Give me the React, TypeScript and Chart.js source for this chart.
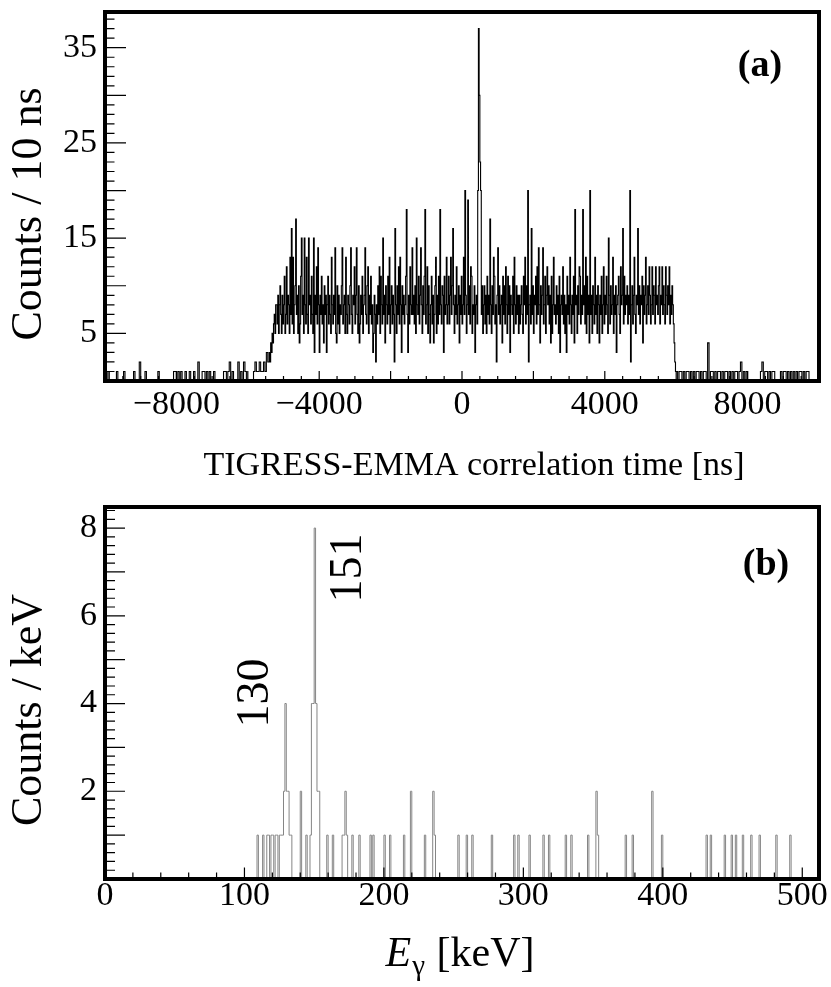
import React, { useEffect, useRef } from "react";
import { Chart, registerables } from "chart.js";

Chart.register(...registerables);

const SERIF = '"Liberation Serif", "Times New Roman", Times, serif';
const PAGE_W = 831;
const TOP_H = 495;
const BOT_H = 492;

// ---------------- Panel (a): TIGRESS-EMMA correlation time ----------------
const timeMin = -10000;
const timeMax = 10000;
const timeCountMax = 38.75;
// background before the window: 40 ns bins, -10000 ns .. -5400 ns
const timeBgBin = 40;
const timeBackgroundBefore = [
  0, 0, 1, 0, 0, 0, 0, 0, 1, 0,
  0, 0, 0, 1, 0, 0, 0, 0, 0, 0,
  1, 0, 0, 0, 2, 0, 0, 0, 1, 0,
  0, 0, 0, 0, 0, 0, 0, 1, 0, 0,
  0, 0, 0, 0, 0, 0, 0, 0, 1, 1,
  0, 1, 0, 1, 0, 0, 1, 0, 0, 1,
  0, 0, 1, 0, 0, 2, 0, 0, 1, 1,
  0, 1, 0, 1, 0, 0, 1, 0, 0, 0,
  0, 0, 0, 1, 1, 0, 1, 2, 0, 1,
  0, 0, 0, 2, 0, 1, 0, 2, 1, 0,
  0, 0, 0, 0, 1, 2, 1, 1, 2, 1,
  1, 2, 1, 3, 2,
];
// coincidence window: 20 ns bins, -5400 ns .. 6000 ns (one row = 1000 ns)
const timeWindowStart = -5400;
const timeWindowBin = 20;
const timeWindow = [
  3, 2, 4, 3, 5, 4, 6, 7, 5, 8, 8, 6, 9, 5, 8, 10, 7, 5, 9, 6, 8, 11, 5, 7, 12, 6, 9, 8, 5, 13, 7, 16, 6, 13, 5, 8, 10, 17, 7, 9, 5, 10, 4, 6, 11, 15, 7, 9, 5, 15,
  8, 6, 13, 7, 5, 15, 8, 9, 6, 11, 7, 5, 15, 3, 9, 7, 12, 6, 14, 8, 3, 9, 7, 11, 6, 8, 4, 10, 7, 9, 3, 8, 11, 6, 9, 7, 5, 13, 8, 6, 9, 7, 14, 5, 4, 10, 6, 9, 5, 8,
  7, 10, 14, 6, 8, 9, 5, 13, 7, 5, 9, 8, 6, 10, 14, 7, 5, 9, 8, 12, 6, 9, 14, 7, 5, 10, 4, 6, 9, 7, 11, 5, 8, 9, 14, 7, 6, 10, 12, 5, 9, 7, 11, 6, 8, 3, 5, 9, 7, 2,
  8, 6, 10, 7, 12, 5, 11, 8, 6, 15, 7, 9, 4, 10, 8, 6, 11, 7, 13, 5, 8, 10, 6, 9, 7, 2, 16, 8, 5, 10, 7, 12, 6, 13, 8, 3, 10, 7, 9, 6, 8, 11, 18, 7, 3, 9, 6, 12, 8, 7,
  14, 7, 9, 6, 10, 5, 15, 8, 7, 11, 6, 9, 14, 8, 5, 10, 7, 11, 18, 6, 8, 12, 5, 10, 7, 4, 8, 11, 6, 9, 4, 7, 10, 13, 5, 9, 6, 11, 7, 18, 8, 6, 10, 9, 3, 11, 7, 8, 13, 6,
  8, 11, 6, 9, 13, 7, 10, 16, 8, 5, 9, 7, 12, 6, 8, 10, 4, 9, 7, 11, 6, 8, 13, 7, 20, 9, 5, 8, 19, 7, 10, 6, 12, 11, 5, 8, 7, 10, 3, 8, 9, 6, 20, 37, 30, 23, 20, 7, 10, 5,
  8, 10, 6, 9, 5, 11, 7, 9, 6, 17, 8, 5, 10, 7, 13, 11, 6, 8, 2, 9, 14, 7, 10, 6, 8, 9, 4, 11, 7, 10, 6, 12, 8, 5, 11, 7, 10, 3, 9, 8, 7, 11, 5, 13, 8, 6, 10, 7, 9, 5,
  9, 6, 8, 10, 7, 5, 11, 8, 13, 6, 10, 7, 20, 2, 8, 9, 6, 16, 7, 10, 5, 9, 8, 11, 6, 12, 7, 14, 8, 4, 10, 7, 9, 14, 6, 8, 11, 5, 9, 12, 8, 10, 6, 9, 4, 11, 5, 8, 13, 7,
  8, 6, 10, 7, 9, 5, 11, 3, 8, 9, 7, 12, 6, 9, 5, 8, 3, 11, 7, 9, 6, 13, 8, 5, 9, 7, 11, 4, 18, 8, 9, 5, 10, 7, 12, 11, 6, 9, 7, 18, 8, 10, 6, 13, 5, 11, 7, 9, 4, 20,
  7, 9, 5, 10, 8, 6, 13, 7, 9, 5, 10, 8, 4, 9, 7, 11, 5, 8, 12, 6, 9, 7, 11, 8, 5, 15, 9, 6, 10, 7, 8, 13, 5, 9, 7, 10, 3, 8, 9, 11, 7, 5, 12, 8, 9, 16, 6, 11, 7, 9,
  8, 10, 6, 9, 7, 20, 2, 8, 10, 6, 9, 13, 7, 5, 9, 8, 16, 7, 10, 6, 9, 8, 11, 4, 10, 7, 9, 13, 6, 8, 10, 7, 12, 9, 6, 8, 12, 7, 10, 9, 6, 12, 8, 9, 7, 10, 12, 6, 9, 8,
  12, 7, 10, 8, 6, 12, 9, 7, 10, 8, 12, 6, 9, 7, 10, 8, 6, 4, 2, 1,
];
// background after the window: 40 ns bins, 6000 ns .. 10000 ns
const timeBackgroundAfter = [
  1, 0, 1, 1, 0, 1, 0, 1, 1, 0,
  1, 0, 1, 0, 1, 1, 0, 1, 0, 1,
  1, 0, 4, 0, 1, 1, 0, 1, 0, 1,
  1, 0, 1, 0, 1, 1, 0, 1, 0, 1,
  0, 1, 1, 0, 1, 2, 0, 1, 0, 1,
  0, 0, 0, 0, 0, 0, 0, 0, 0, 1,
  2, 0, 1, 1, 0, 1, 0, 1, 1, 0,
  0, 0, 0, 1, 0, 1, 1, 0, 1, 0,
  1, 0, 1, 0, 1, 0, 1, 1, 0, 1,
  0, 1, 1, 0, 0, 0, 0, 0, 0, 0,
];
const timeTickLabels = [-8000, -4000, 0, 4000, 8000];
const timeCountTickLabels = [5, 15, 25, 35];

// ---------------- Panel (b): gamma-ray energy ----------------
const gammaMin = 0;
const gammaMax = 512;
const gammaCountMax = 8.48;
// [energy bin (keV), counts]
const gammaNonZeroBins = [
  [109, 1], [113, 1], [116, 1], [117, 1], [119, 1], [120, 1], [122, 1], [123, 1],
  [125, 1], [126, 1], [127, 1], [128, 2], [129, 4], [130, 2], [131, 2], [132, 1],
  [133, 1], [140, 2], [144, 1], [147, 1], [148, 4], [149, 4], [150, 8], [151, 4],
  [152, 2], [153, 2], [159, 1], [163, 1], [170, 1], [171, 1], [172, 2], [173, 1],
  [177, 1], [182, 1], [190, 1], [192, 1], [200, 1], [204, 1], [214, 1], [219, 2],
  [229, 1], [235, 2], [236, 1], [253, 1], [259, 1], [263, 1], [277, 1], [293, 1],
  [296, 1], [304, 1], [314, 1], [318, 1], [330, 1], [334, 1], [346, 1], [352, 2],
  [353, 1], [373, 1], [378, 1], [392, 2], [399, 1], [431, 1], [434, 1], [444, 1],
  [449, 1], [452, 1], [457, 1], [463, 1], [469, 1], [481, 1], [491, 1],
];
const gammaTickLabels = [0, 100, 200, 300, 400, 500];
const gammaCountTickLabels = [2, 4, 6, 8];
const gammaPeakLabels = [
  { text: "130", energy: 107, count: 4.24 },
  { text: "151", energy: 173.6, count: 7.09 },
];

// ---------------- helpers ----------------
const timePoints: { x: number; y: number }[] = [];
timeBackgroundBefore.forEach((c, i) => timePoints.push({ x: timeMin + i * timeBgBin, y: c }));
timeWindow.forEach((c, i) => timePoints.push({ x: timeWindowStart + i * timeWindowBin, y: c }));
const timeAfterStart = timeWindowStart + timeWindow.length * timeWindowBin;
timeBackgroundAfter.forEach((c, i) => timePoints.push({ x: timeAfterStart + i * timeBgBin, y: c }));
timePoints.push({ x: timeMax, y: timeBackgroundAfter[timeBackgroundAfter.length - 1] });

const gammaCounts: number[] = new Array(gammaMax - gammaMin).fill(0);
gammaNonZeroBins.forEach(([e, c]) => {
  gammaCounts[e - gammaMin] = c;
});
const gammaPoints = gammaCounts.map((c, i) => ({ x: gammaMin + i, y: c }));
gammaPoints.push({ x: gammaMax, y: gammaCounts[gammaCounts.length - 1] });

const fmt = (v: number) => (v < 0 ? "\u2212" + Math.abs(v) : String(v));

type Spec = {
  points: { x: number; y: number }[];
  color: string;
  lineWidth: number;
  height: number;
  plotBottom: number;
  xMin: number;
  xMax: number;
  yMax: number;
  xLabels: number[];
  yLabels: number[];
  xLabelPad: number;
  xMajor: number;
  xMinor: number;
  yMajor: number;
  yMinor: number;
  xMajorLen: number;
  xMinorLen: number;
  yMajorLen: number;
  yMinorLen: number;
  drawText: (ctx: CanvasRenderingContext2D, a: any, xs: any, ys: any) => void;
};

function isMult(v: number, step: number) {
  const r = v / step;
  return Math.abs(r - Math.round(r)) < 1e-6;
}

function makeDecor(spec: Spec) {
  return {
    id: "decor",
    afterDatasetsDraw(chart: any) {
      const { ctx, chartArea: a } = chart;
      const xs = chart.scales.x;
      const ys = chart.scales.y;
      ctx.save();
      ctx.strokeStyle = "#000";
      ctx.lineWidth = 1.2;
      ctx.beginPath();
      const nx = Math.round((spec.xMax - spec.xMin) / spec.xMinor);
      const kx0 = Math.ceil(spec.xMin / spec.xMinor);
      for (let k = kx0; k <= kx0 + nx; k++) {
        const v = k * spec.xMinor;
        if (v > spec.xMax) break;
        const len = isMult(v, spec.xMajor) ? spec.xMajorLen : spec.xMinorLen;
        const px = xs.getPixelForValue(v);
        ctx.moveTo(px, a.bottom);
        ctx.lineTo(px, a.bottom - len);
      }
      const ny = Math.floor(spec.yMax / spec.yMinor + 1e-9);
      for (let k = 0; k <= ny; k++) {
        const v = k * spec.yMinor;
        const len = isMult(v, spec.yMajor) ? spec.yMajorLen : spec.yMinorLen;
        const py = ys.getPixelForValue(v);
        ctx.moveTo(a.left, py);
        ctx.lineTo(a.left + len, py);
      }
      ctx.stroke();
      ctx.lineWidth = 4;
      ctx.strokeRect(a.left, a.top, a.right - a.left, a.bottom - a.top);
      ctx.fillStyle = "#000";
      spec.drawText(ctx, a, xs, ys);
      ctx.restore();
    },
  };
}

function buildChart(canvas: HTMLCanvasElement, spec: Spec) {
  const tickFont = { family: SERIF, size: 34 };
  return new Chart(canvas, {
    type: "line",
    data: {
      datasets: [
        {
          data: spec.points,
          borderColor: spec.color,
          borderWidth: spec.lineWidth,
          pointRadius: 0,
          fill: false,
          stepped: "before",
          tension: 0,
        },
      ],
    },
    options: {
      animation: false,
      responsive: false,
      events: [],
      layout: { padding: { left: 0, right: PAGE_W - 819, top: 12, bottom: 0 } },
      plugins: { legend: { display: false }, tooltip: { enabled: false }, title: { display: false } },
      scales: {
        x: {
          type: "linear",
          min: spec.xMin,
          max: spec.xMax,
          grid: { display: false, drawTicks: false },
          border: { display: false },
          ticks: {
            font: tickFont,
            color: "#000",
            padding: spec.xLabelPad,
            autoSkip: false,
            maxRotation: 0,
            minRotation: 0,
            callback: (v: any) => fmt(Number(v)),
          },
          afterBuildTicks: (s: any) => {
            s.ticks = spec.xLabels.map((v) => ({ value: v }));
          },
          afterFit: (s: any) => {
            s.height = spec.height - spec.plotBottom;
            s.paddingLeft = 0;
            s.paddingRight = 0;
          },
        },
        y: {
          type: "linear",
          min: 0,
          max: spec.yMax,
          grid: { display: false, drawTicks: false },
          border: { display: false },
          ticks: {
            font: tickFont,
            color: "#000",
            padding: 8,
            autoSkip: false,
            callback: (v: any) => fmt(Number(v)),
          },
          afterBuildTicks: (s: any) => {
            s.ticks = spec.yLabels.map((v) => ({ value: v }));
          },
          afterFit: (s: any) => {
            s.width = 105;
            s.paddingTop = 0;
            s.paddingBottom = 0;
          },
        },
      },
    },
    plugins: [makeDecor(spec)],
  } as any);
}

function drawYTitle(ctx: CanvasRenderingContext2D, text: string, x: number, y: number) {
  ctx.save();
  ctx.font = `44px ${SERIF}`;
  ctx.translate(x, y);
  ctx.rotate(-Math.PI / 2);
  ctx.textAlign = "center";
  ctx.textBaseline = "alphabetic";
  ctx.fillText(text, 0, 0);
  ctx.restore();
}

const topSpec: Spec = {
  points: timePoints,
  color: "#000",
  lineWidth: 1.1,
  height: TOP_H,
  plotBottom: 381,
  xMin: timeMin,
  xMax: timeMax,
  yMax: timeCountMax,
  xLabels: timeTickLabels,
  yLabels: timeCountTickLabels,
  xLabelPad: 4,
  xMajor: 2000,
  xMinor: 500,
  yMajor: 5,
  yMinor: 1,
  xMajorLen: 10,
  xMinorLen: 5,
  yMajorLen: 21,
  yMinorLen: 9.5,
  drawText: (ctx, a) => {
    ctx.font = `bold 38px ${SERIF}`;
    ctx.textAlign = "center";
    ctx.textBaseline = "alphabetic";
    ctx.fillText("(a)", a.right - 59, a.top + 64);
    ctx.font = `34px ${SERIF}`;
    ctx.fillText("TIGRESS-EMMA correlation time [ns]", (a.left + a.right) / 2 + 12, a.bottom + 94);
    drawYTitle(ctx, "Counts / 10 ns", 41, (a.top + a.bottom) / 2 + 17.5);
  },
};

const botSpec: Spec = {
  points: gammaPoints,
  color: "#858585",
  lineWidth: 1,
  height: BOT_H,
  plotBottom: 384,
  xMin: gammaMin,
  xMax: gammaMax,
  yMax: gammaCountMax,
  xLabels: gammaTickLabels,
  yLabels: gammaCountTickLabels,
  xLabelPad: -3,
  xMajor: 100,
  xMinor: 20,
  yMajor: 1,
  yMinor: 0.2,
  xMajorLen: 11.5,
  xMinorLen: 6.5,
  yMajorLen: 20,
  yMinorLen: 10,
  drawText: (ctx, a, xs, ys) => {
    ctx.font = `bold 38px ${SERIF}`;
    ctx.textAlign = "center";
    ctx.textBaseline = "alphabetic";
    ctx.fillText("(b)", a.right - 53, a.top + 68);

    // peak energy labels
    ctx.font = `46px ${SERIF}`;
    gammaPeakLabels.forEach((p) => {
      ctx.save();
      ctx.translate(xs.getPixelForValue(p.energy) + 2, ys.getPixelForValue(p.count));
      ctx.rotate(-Math.PI / 2);
      ctx.textAlign = "center";
      ctx.textBaseline = "middle";
      ctx.fillText(p.text, 0, 0);
      ctx.restore();
    });

    // x title: E_gamma [keV]
    const base = a.bottom + 87;
    const big = 42;
    const small = 29;
    ctx.textAlign = "left";
    ctx.textBaseline = "alphabetic";
    ctx.font = `italic ${big}px ${SERIF}`;
    const wE = ctx.measureText("E").width;
    ctx.font = `${small}px ${SERIF}`;
    const wG = ctx.measureText("\u03b3").width;
    ctx.font = `${big}px ${SERIF}`;
    const rest = " [keV]";
    const wR = ctx.measureText(rest).width;
    let x0 = (a.left + a.right) / 2 - 2 - (wE + wG + 2 + wR) / 2;
    ctx.font = `italic ${big}px ${SERIF}`;
    ctx.fillText("E", x0, base);
    x0 += wE + 1;
    ctx.font = `${small}px ${SERIF}`;
    ctx.fillText("\u03b3", x0, base + 9);
    x0 += wG + 1;
    ctx.font = `${big}px ${SERIF}`;
    ctx.fillText(rest, x0, base);

    drawYTitle(ctx, "Counts / keV", 41, (a.top + a.bottom) / 2 + 17);
  },
};

export default function App() {
  const topRef = useRef<HTMLCanvasElement>(null);
  const botRef = useRef<HTMLCanvasElement>(null);

  useEffect(() => {
    const c1 = buildChart(topRef.current as HTMLCanvasElement, topSpec);
    const c2 = buildChart(botRef.current as HTMLCanvasElement, botSpec);
    return () => {
      c1.destroy();
      c2.destroy();
    };
  }, []);

  return (
    <div
      style={{
        position: "absolute",
        left: 0,
        top: 0,
        width: PAGE_W,
        height: TOP_H + BOT_H,
        background: "#fff",
        overflow: "hidden",
      }}
    >
      <canvas
        ref={topRef}
        width={PAGE_W}
        height={TOP_H}
        style={{ position: "absolute", left: 0, top: 0, display: "block" }}
      />
      <canvas
        ref={botRef}
        width={PAGE_W}
        height={BOT_H}
        style={{ position: "absolute", left: 0, top: TOP_H, display: "block" }}
      />
    </div>
  );
}
